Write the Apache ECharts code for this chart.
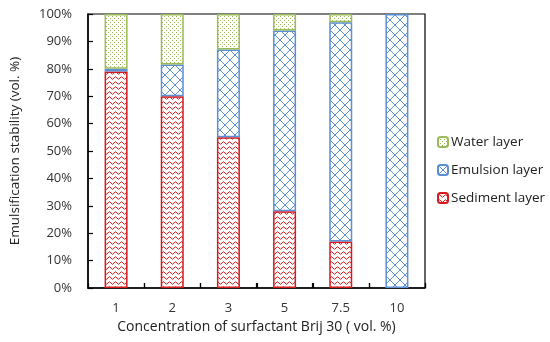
<!DOCTYPE html>
<html><head><meta charset="utf-8">
<script src="https://cdn.jsdelivr.net/npm/echarts@6/dist/echarts.min.js"></script>
<style>html,body{margin:0;padding:0;background:#fff}#c{width:550px;height:342px}</style>
</head><body><div id="c"></div>
<script>
const categories = ['1', '2', '3', '5', '7.5', '10'];
const sediment = [79, 70, 55, 28, 17, 0];
const emulsion = [1, 11.6, 32, 66, 80, 100];
const water = [20, 18.4, 13, 6, 3, 0];
const yTicks = ['0%','10%','20%','30%','40%','50%','60%','70%','80%','90%','100%'];

function pat(w, h, draw) {
  const c = document.createElement('canvas');
  c.width = w; c.height = h;
  const g = c.getContext('2d');
  g.fillStyle = '#fff'; g.fillRect(0, 0, w, h);
  draw(g);
  return {image: c, repeat: 'repeat'};
}
const RED = '#d7191c', BLUE = '#5b8fd6', GREEN = '#9bbb59';
const sedPat = pat(6, 5, g => {
  g.strokeStyle = RED; g.lineWidth = 1;
  g.beginPath(); g.moveTo(0, 3); g.quadraticCurveTo(1.5, 0.5, 3, 3); g.quadraticCurveTo(4.5, 5.5, 6, 3); g.stroke();
});
const emuPat = pat(10, 10, g => {
  g.fillStyle = BLUE;
  for (let i = 0; i < 10; i++) {
    g.fillRect(i, i, 1, 1);
    g.fillRect(9 - i, i, 1, 1);
  }
});
const watPat = pat(4, 4, g => {
  g.fillStyle = GREEN;
  g.fillRect(0, 0, 1, 1); g.fillRect(2, 2, 1, 1);
});

const font = '"Open Sans", Lato, sans-serif';
const chart = echarts.init(document.getElementById('c'));
const mk = (name, data, fill, border) => ({
  name, type: 'bar', stack: 's', data: data.map(v => v === 0 ? null : v), barWidth: 23,
  itemStyle: {color: fill, borderColor: border, borderWidth: 1.5},
  emphasis: {disabled: true}
});
chart.setOption({
  animation: false,
  grid: {left: 88, right: 125, top: 14, bottom: 54, show: true, borderColor: '#000', borderWidth: 1.2},
  legend: {
    orient: 'vertical', left: 432, top: 130, itemWidth: 10, itemHeight: 10, itemGap: 14,
    data: ['Water layer', 'Emulsion layer', 'Sediment layer'],
    textStyle: {fontFamily: font, fontSize: 13.5, color: '#222', padding: [0, 0, 0, -2]}
  },
  xAxis: {
    type: 'category', data: categories, boundaryGap: true,
    name: 'Concentration of surfactant Brij 30 ( vol. %)', nameLocation: 'middle', nameGap: 27,
    nameTextStyle: {fontFamily: font, fontSize: 14, color: '#222'},
    axisLine: {show: true, lineStyle: {color: '#000', width: 1.5}},
    axisTick: {show: true, inside: true, length: 5, lineStyle: {color: '#000', width: 1.2}},
    axisLabel: {fontFamily: font, fontSize: 13, color: '#333', margin: 14}
  },
  yAxis: {
    type: 'value', min: 0, max: 100, interval: 10,
    name: 'Emulsification stability (vol. %)', nameLocation: 'middle', nameGap: 66,
    nameTextStyle: {fontFamily: font, fontSize: 13.5, color: '#222'},
    axisLine: {show: true, lineStyle: {color: '#000', width: 1.5}},
    axisTick: {show: true, inside: true, length: 5, lineStyle: {color: '#000', width: 1.2}},
    splitLine: {show: false},
    axisLabel: {fontFamily: font, fontSize: 13, color: '#333', margin: 16,
      formatter: (v) => yTicks[Math.round(v / 10)]}
  },
  series: [
    mk('Sediment layer', sediment, sedPat, RED),
    mk('Emulsion layer', emulsion, emuPat, BLUE),
    mk('Water layer', water, watPat, GREEN),
    {
      type: 'custom', silent: true, z: 10,
      data: categories.map((c, i) => [i, 0]),
      renderItem: (params, api) => {
        const p = api.coord([api.value(0), 0]);
        const bw = api.size([1, 0])[0];
        const x = Math.round(p[0] + bw / 2) + 0.5;
        return {type: 'line', shape: {x1: x, y1: p[1], x2: x, y2: p[1] - 5},
          style: {stroke: '#000', lineWidth: 1.2}};
      }
    }
  ]
});
</script></body></html>
